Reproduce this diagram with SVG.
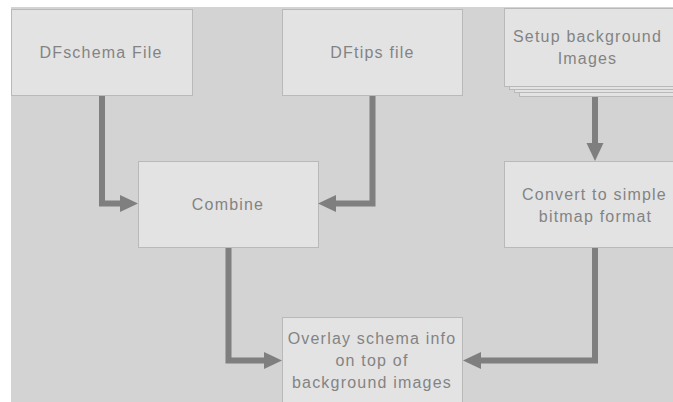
<svg xmlns="http://www.w3.org/2000/svg" width="673" height="402" viewBox="0 0 673 402">
<style>
.box{fill:#e3e3e3;stroke:#b9b9b9;stroke-width:1}
.lbl{font-family:"Liberation Sans",Arial,sans-serif;font-size:16px;fill:#838383;letter-spacing:1.2px;text-anchor:middle}
.wire{fill:none;stroke:#7f7f7f;stroke-width:6}
.head{fill:#7f7f7f}
</style>
<rect width="673" height="402" fill="#ffffff"/>
<rect x="11" y="7" width="662" height="395" fill="#d3d3d3"/>
<g id="n-dfschema">
<rect class="box" x="11.5" y="9.5" width="181" height="86"/>
<text class="lbl" x="101" y="57.5">DFschema File</text>
</g>
<g id="n-dftips">
<rect class="box" x="282.5" y="9.5" width="180" height="86"/>
<text class="lbl" x="372.5" y="57.5">DFtips file</text>
</g>
<g id="n-setup">
<rect class="box" x="519.5" y="18.5" width="182" height="78"/>
<rect class="box" x="514.5" y="14.5" width="182" height="78"/>
<rect class="box" x="509.5" y="11.5" width="182" height="78"/>
<rect class="box" x="504.5" y="8.5" width="182" height="78"/>
<text class="lbl" x="587.5" y="42">Setup background</text>
<text class="lbl" x="587.5" y="64">Images</text>
</g>
<g id="n-combine">
<rect class="box" x="138.5" y="161.5" width="180" height="86"/>
<text class="lbl" x="228" y="209.5">Combine</text>
</g>
<g id="n-convert">
<rect class="box" x="504.5" y="161.5" width="182" height="86"/>
<text class="lbl" x="594.5" y="199.5">Convert to simple</text>
<text class="lbl" x="595.5" y="221.5">bitmap format</text>
</g>
<g id="n-overlay">
<rect class="box" x="282.5" y="317.5" width="180" height="100"/>
<text class="lbl" x="372" y="343.5">Overlay schema info</text>
<text class="lbl" x="372" y="365.5">on top of</text>
<text class="lbl" x="372" y="387.5">background images</text>
</g>
<g id="connectors">
<path class="wire" d="M102,96 V203.5 H121"/>
<polygon class="head" points="120,195 138,203.5 120,212"/>
<path class="wire" d="M372.5,96 V203.5 H335"/>
<polygon class="head" points="336,195 318,203.5 336,212"/>
<path class="wire" d="M595,97 V144"/>
<polygon class="head" points="586.5,143 595,161 603.5,143"/>
<path class="wire" d="M228.5,248 V360.5 H265"/>
<polygon class="head" points="264,352 282,360.5 264,369"/>
<path class="wire" d="M595,248 V360.5 H480"/>
<polygon class="head" points="481,352 463,360.5 481,369"/>
</g>
</svg>
